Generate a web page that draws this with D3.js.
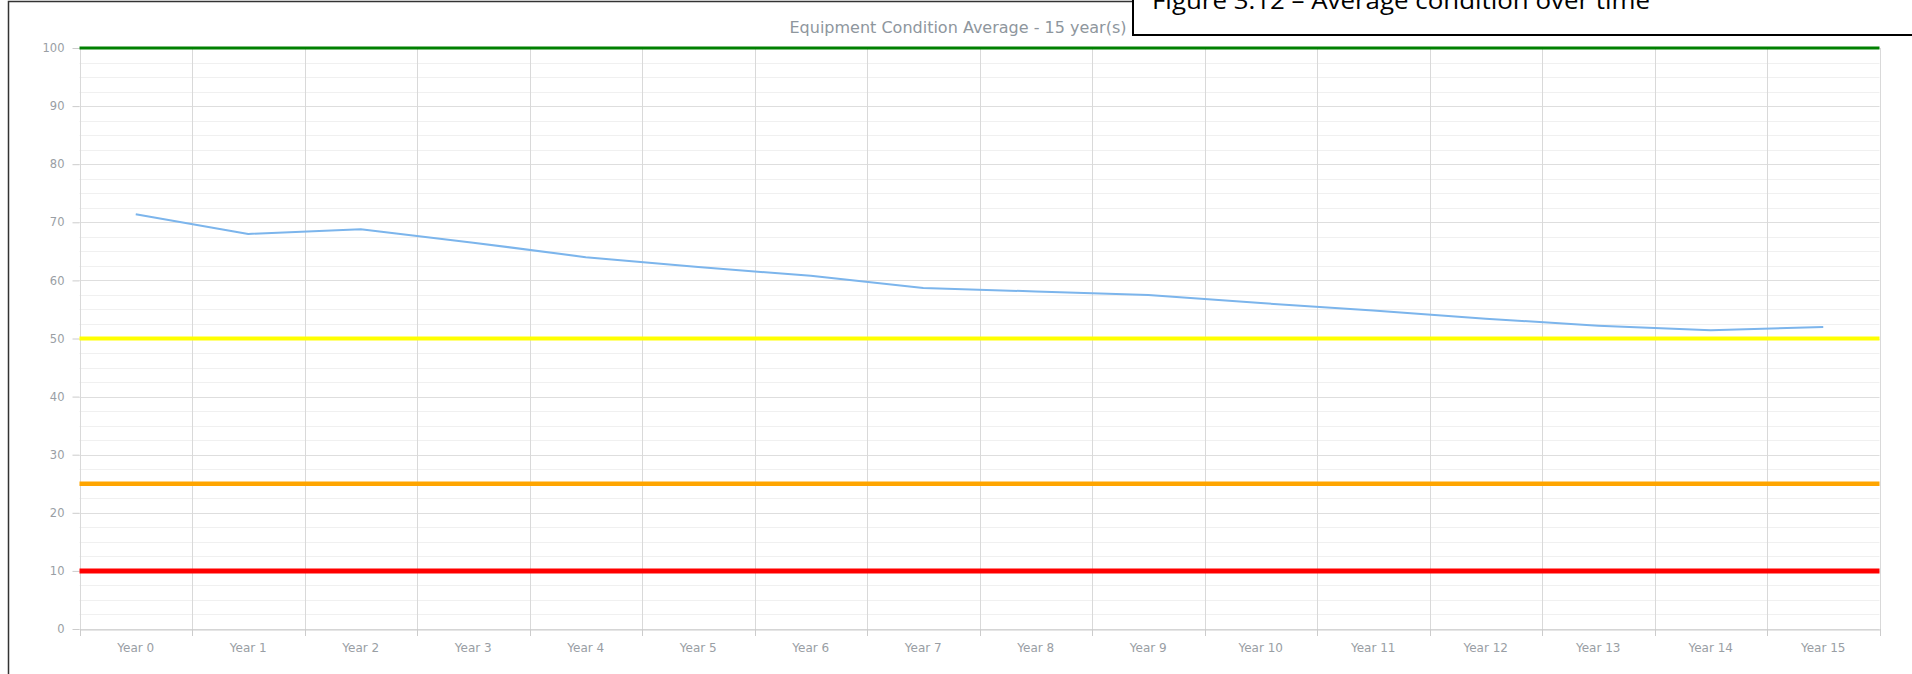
<!DOCTYPE html>
<html>
<head>
<meta charset="utf-8">
<script src="https://cdn.jsdelivr.net/npm/d3@7/dist/d3.min.js"></script>
<style>
  html, body { margin: 0; padding: 0; background: #fff; }
  svg { display: block; }
  .axis text { font-family: "DejaVu Sans", Verdana, sans-serif; fill: #999ea4; }
  .axis path, .axis line { stroke: #cccccc; }
</style>
</head>
<body>
<svg id="chart" width="1912" height="674"></svg>
<script>
// Average equipment condition per year
const categories = ["Year 0", "Year 1", "Year 2", "Year 3", "Year 4", "Year 5", "Year 6", "Year 7",
  "Year 8", "Year 9", "Year 10", "Year 11", "Year 12", "Year 13", "Year 14", "Year 15"];
const conditionValues = [71.4, 68.0, 68.8, 66.5, 64.0, 62.3, 60.8, 58.7,
  58.1, 57.5, 56.1, 54.8, 53.4, 52.2, 51.4, 52.0];
// Condition thresholds: good, fair, poor, critical
const thresholdValues = [100, 50, 25, 10];
const yTickValues = [0, 10, 20, 30, 40, 50, 60, 70, 80, 90, 100];
const chartTitle = "Equipment Condition Average - 15 year(s)";
const figureCaption = "Figure 3.12 \u2013 Average condition over time";

const thresholdStyle = [
  { color: "#008000", width: 3 },
  { color: "#ffff00", width: 4 },
  { color: "#ffa500", width: 4.5 },
  { color: "#ff0000", width: 5 }
];

const svg = d3.select("#chart");
const plot = { left: 79.5, right: 1879.5, top: 48, bottom: 629 };

const x = d3.scaleBand().domain(categories).range([plot.left, plot.right]).padding(0);
const y = d3.scaleLinear().domain([0, 100]).range([plot.bottom, plot.top]);

// outer frame
svg.append("path")
  .attr("d", `M8.5,${674}V1.5H1135`)
  .attr("fill", "none").attr("stroke", "#333").attr("stroke-width", 1.5);

// minor horizontal grid
const minor = d3.range(0, 100.001, 2.5).filter(v => v % 10 !== 0);
svg.append("g").selectAll("line").data(minor).join("line")
  .attr("x1", plot.left).attr("x2", plot.right)
  .attr("y1", d => Math.round(y(d)) + 0.5).attr("y2", d => Math.round(y(d)) + 0.5)
  .attr("stroke", "#f0f0f0").attr("stroke-width", 1);

// major horizontal grid
svg.append("g").selectAll("line").data(yTickValues).join("line")
  .attr("x1", plot.left).attr("x2", plot.right)
  .attr("y1", d => Math.round(y(d)) + 0.5).attr("y2", d => Math.round(y(d)) + 0.5)
  .attr("stroke", "#dedede").attr("stroke-width", 1);

// vertical grid on category boundaries
const bounds = categories.map(c => x(c)).concat([x(categories[categories.length - 1]) + x.bandwidth()]);
svg.append("g").selectAll("line").data(bounds).join("line")
  .attr("x1", d => Math.round(d) + 0.5).attr("x2", d => Math.round(d) + 0.5)
  .attr("y1", plot.top).attr("y2", plot.bottom)
  .attr("stroke", "#d9d9d9").attr("stroke-width", 1);

// y axis
const yAxis = svg.append("g").attr("class", "axis")
  .attr("transform", `translate(${plot.left},0)`)
  .call(d3.axisLeft(y).tickValues(yTickValues).tickSize(7).tickPadding(8));
yAxis.select(".domain").remove();
yAxis.selectAll("text").attr("font-size", 11.5);

// x axis
const xAxis = svg.append("g").attr("class", "axis")
  .attr("transform", `translate(0,${plot.bottom + 0.5})`)
  .call(d3.axisBottom(x).tickSize(0).tickPadding(14));
xAxis.select(".domain").attr("stroke", "#cccccc");
xAxis.selectAll("text").attr("font-size", 12);
svg.append("g").selectAll("line").data(bounds).join("line")
  .attr("x1", d => Math.round(d) + 0.5).attr("x2", d => Math.round(d) + 0.5)
  .attr("y1", plot.bottom).attr("y2", plot.bottom + 7)
  .attr("stroke", "#cccccc");

// threshold lines
svg.append("g").selectAll("line").data(thresholdValues).join("line")
  .attr("x1", plot.left).attr("x2", plot.right)
  .attr("y1", d => y(d)).attr("y2", d => y(d))
  .attr("stroke", (d, i) => thresholdStyle[i].color)
  .attr("stroke-width", (d, i) => thresholdStyle[i].width);

// condition series
const line = d3.line()
  .x((d, i) => x(categories[i]) + x.bandwidth() / 2)
  .y(d => y(d));
svg.append("path").datum(conditionValues)
  .attr("d", line)
  .attr("fill", "none").attr("stroke", "#7cb5ec").attr("stroke-width", 2)
  .attr("stroke-linejoin", "round");

// chart title
svg.append("text")
  .attr("x", 958).attr("y", 33)
  .attr("text-anchor", "middle")
  .attr("font-family", "DejaVu Sans, Verdana, sans-serif")
  .attr("font-size", 16).attr("fill", "#8e969d")
  .text(chartTitle);

// caption box
svg.append("rect")
  .attr("x", 1133).attr("y", -10).attr("width", 800).attr("height", 45)
  .attr("fill", "#fff").attr("stroke", "#000").attr("stroke-width", 2);
svg.append("text")
  .attr("x", 1152).attr("y", 9)
  .attr("font-family", "Open Sans, Liberation Sans, sans-serif")
  .attr("font-size", 23).attr("fill", "#000")
  .attr("textLength", 498).attr("lengthAdjust", "spacingAndGlyphs")
  .text(figureCaption);
</script>
</body>
</html>
